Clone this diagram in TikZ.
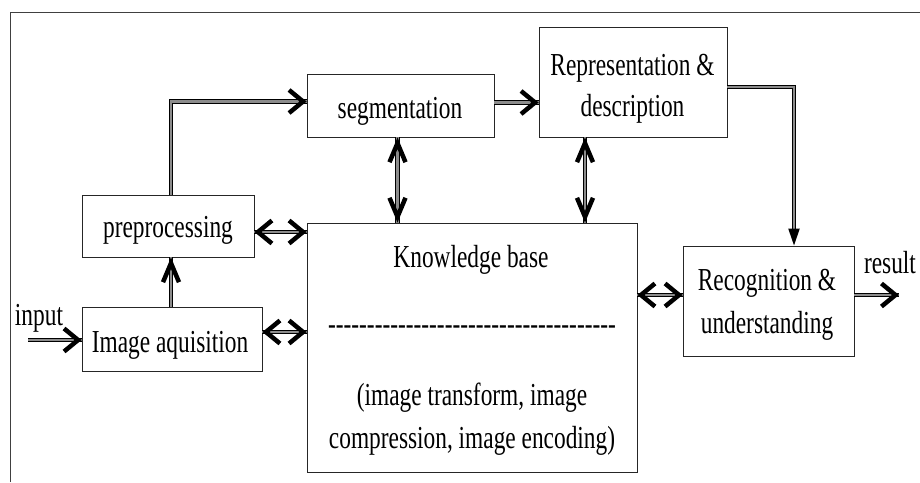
\documentclass[tikz,border=0pt]{standalone}
\usepackage{fontspec}
\setmainfont{Liberation Serif}
\newfontfamily\boxfont{Liberation Serif}[FakeStretch=0.73]
\usetikzlibrary{arrows.meta}
\begin{document}
\begin{tikzpicture}[x=1pt,y=-1pt,
  frame/.style={draw=black!75, line width=0.8pt},
  box/.style={draw=black!85, line width=0.8pt, inner sep=0pt},
  txt/.style={anchor=base, inner sep=0pt, font=\boxfont\fontsize{32}{36}\selectfont},
  dbl/.style={preaction={draw=black, arrows=-, line width=1pt, double=black!45, double distance=2.6pt, shorten >=#1}, draw=black!45, line width=2pt},
  dbl/.default=0pt,
  hdbl/.style={dbl, >={Straight Barb[length=14pt,width=23pt,line width=4.5pt,color=black]}},
  vdbl/.style={dbl, >={Straight Barb[length=19pt,width=16pt,line width=4.5pt,color=black]}},
  tdbl/.style={dbl=9pt, >={Triangle[length=17pt,width=11pt,color=black]}}
]
\useasboundingbox (0,0) rectangle (920,482);
\draw[frame] (10,482) -- (10,12) -- (920,12);

% boxes
\node[box, minimum width=172pt, minimum height=62pt] (pre) at (168,226) {};
\node[box, minimum width=180pt, minimum height=64pt] (ia) at (172,339) {};
\node[box, minimum width=187pt, minimum height=63pt] (seg) at (400.5,105.5) {};
\node[box, minimum width=188pt, minimum height=110pt] (rep) at (633,82) {};
\node[box, minimum width=330pt, minimum height=249pt] (kb) at (472,347.5) {};
\node[box, minimum width=171pt, minimum height=110pt] (rec) at (768.5,301) {};

% texts
\node[txt] (tpre) at (168,237) {preprocessing};
\node[txt] (tia) at (170,352) {Image aquisition};
\node[txt] (tseg) at (400,118) {segmentation};
\node[txt] (trepa) at (632.5,75) {Representation \&};
\node[txt] (trepb) at (632.5,116) {description};
\node[txt] (tkb) at (471,267) {Knowledge base};
\node[txt] (tdash) at (472,334) {-{}-{}-{}-{}-{}-{}-{}-{}-{}-{}-{}-{}-{}-{}-{}-{}-{}-{}-{}-{}-{}-{}-{}-{}-{}-{}-{}-{}-{}-{}-{}-{}-{}-{}-{}-{}-};
\node[txt] (tkbb) at (472,405) {(image transform, image};
\node[txt] (tkbc) at (472,448) {compression, image encoding)};
\node[txt] (treca) at (767,290) {Recognition \&};
\node[txt] (trecb) at (767,333) {understanding};
\node[txt] (tin) at (39,325) {input};
\node[txt] (tres) at (890,273) {result};

% connectors
\coordinate (inS) at (28,340);
\coordinate (resE) at (899,295);
\draw[hdbl,->] (inS) -- (inS -| ia.west);
\draw[vdbl,->] ([xshift=-1pt]ia.north) -- ([xshift=-1pt]ia.north |- pre.south);
\draw[hdbl,->] ([xshift=3pt]pre.north) |- ([yshift=4pt]seg.west);
\draw[hdbl,->] ([yshift=3pt]seg.east) -- ([yshift=3pt]seg.east -| rep.west);
\draw[vdbl,<->] ([xshift=-3pt]seg.south) -- ([xshift=-3pt]seg.south |- kb.north);
\draw[vdbl,<->] ([xshift=-48pt]rep.south) -- ([xshift=-48pt]rep.south |- kb.north);
\draw[hdbl,<->] ([yshift=-6pt]pre.east) -- ([yshift=-6pt]pre.east -| kb.west);
\draw[hdbl,<->] ([yshift=7pt]ia.east) -- ([yshift=7pt]ia.east -| kb.west);
\draw[hdbl,<->] ([yshift=6pt]rec.west -| kb.east) -- ([yshift=6pt]rec.west);
\draw[tdbl,->] ([yshift=-5pt]rep.east) -| ([xshift=25.5pt]rec.north);
\draw[hdbl,->] ([yshift=6pt]rec.east) -- (resE);
\end{tikzpicture}
\end{document}
